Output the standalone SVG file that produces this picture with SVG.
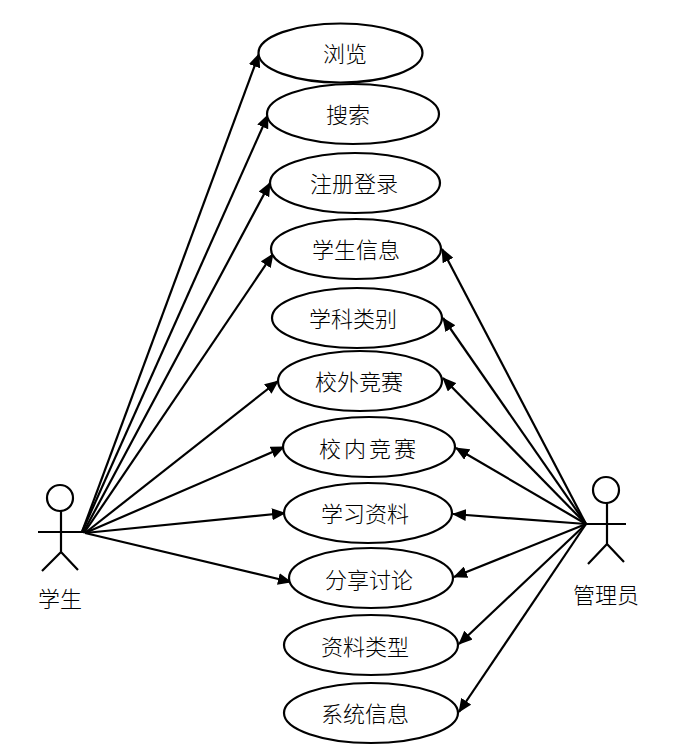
<svg xmlns="http://www.w3.org/2000/svg" width="696" height="750" viewBox="0 0 696 750">
<style>
.n{fill:#fff;stroke:#000;stroke-width:2.2}
.a{fill:none;stroke:#000;stroke-width:2.2}
.c{fill:none;stroke:#000;stroke-width:2.2;marker-end:url(#h)}
text{font-family:"Noto Sans CJK SC","Liberation Serif",sans-serif;font-size:22px;font-weight:300;text-anchor:middle;fill:#000;dominant-baseline:central}
</style>
<defs><marker id="h" markerUnits="userSpaceOnUse" markerWidth="14" markerHeight="12" refX="13" refY="6" orient="auto"><path d="M0 0L14 6L0 12Z" fill="#000"/></marker></defs>
<rect width="696" height="750" fill="#fff"/>
<g id="connectors">
<path class="c" d="M82 532L259 54"/>
<path class="c" d="M82 532L268 115"/>
<path class="c" d="M83 533L270 183"/>
<path class="c" d="M84 533L273 254"/>
<path class="c" d="M85 533L278 381"/>
<path class="c" d="M85 533L284 447"/>
<path class="c" d="M85 533L285 513"/>
<path class="c" d="M85 533L291 582"/>
<path class="c" d="M586 524L442 249"/>
<path class="c" d="M586 524L443 318"/>
<path class="c" d="M586 524L443 378"/>
<path class="c" d="M586 524L456 448"/>
<path class="c" d="M586 524L453 514"/>
<path class="c" d="M586 524L454 577"/>
<path class="c" d="M586 524L459 644"/>
<path class="c" d="M586 524L459 712"/>
</g>
<g id="actor-student"><circle class="a" cx="60" cy="498" r="13"/><path class="a" d="M61 511V552M38 532H83M61 552L42 571M61 552L78 570"/><text x="60" y="597">学生</text></g>
<g id="actor-admin"><circle class="a" cx="606" cy="490" r="13"/><path class="a" d="M607 503V544M586 524H626M607 544L588 564M607 544L624 562"/><text x="606" y="593">管理员</text></g>
<g id="n1"><ellipse class="n" cx="340.500" cy="53" rx="82" ry="29.500"/><text x="345" y="52">浏览</text></g>
<g id="n2"><ellipse class="n" cx="353" cy="114" rx="86" ry="30"/><text x="348" y="113">搜索</text></g>
<g id="n3"><ellipse class="n" cx="355" cy="183" rx="85" ry="30"/><text x="354" y="182">注册登录</text></g>
<g id="n4"><ellipse class="n" cx="356" cy="249" rx="85" ry="30"/><text x="356" y="248">学生信息</text></g>
<g id="n5"><ellipse class="n" cx="357" cy="318" rx="85" ry="30"/><text x="353" y="317">学科类别</text></g>
<g id="n6"><ellipse class="n" cx="360" cy="381" rx="82" ry="30"/><text x="359" y="380">校外竞赛</text></g>
<g id="n7"><ellipse class="n" cx="369" cy="447" rx="86" ry="30"/><text x="369" y="447" style="letter-spacing:3px">校内竞赛</text></g>
<g id="n8"><ellipse class="n" cx="368" cy="513" rx="84" ry="30"/><text x="365" y="512">学习资料</text></g>
<g id="n9"><ellipse class="n" cx="371" cy="578" rx="82" ry="30"/><text x="369" y="578">分享讨论</text></g>
<g id="n10"><ellipse class="n" cx="371" cy="645" rx="87" ry="30"/><text x="365" y="645">资料类型</text></g>
<g id="n11"><ellipse class="n" cx="371" cy="713" rx="87" ry="30"/><text x="365" y="712">系统信息</text></g>
</svg>
